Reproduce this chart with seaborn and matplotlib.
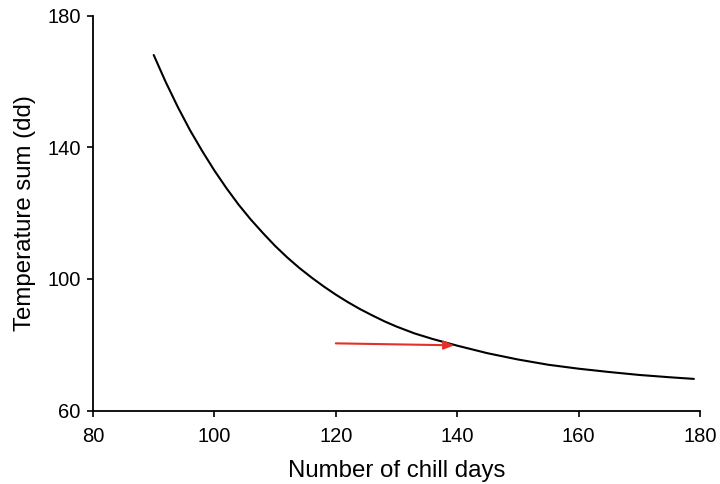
import matplotlib
matplotlib.use("Agg")
import matplotlib.pyplot as plt
import seaborn as sns
import pandas as pd

# Data
chill_days = [90, 92, 94, 96, 98, 100, 102, 104, 106, 108, 110, 112, 114, 116,
              118, 120, 122, 124, 126, 128, 130, 133, 136, 140, 145, 150, 155,
              160, 165, 170, 175, 179]
temp_sum = [168.0, 159.7, 152.1, 145.1, 138.8, 132.9, 127.5, 122.5, 118.0, 113.9,
            110.0, 106.5, 103.3, 100.4, 97.7, 95.2, 92.9, 90.8, 88.9, 87.1, 85.5,
            83.4, 81.7, 79.7, 77.4, 75.5, 73.9, 72.7, 71.7, 70.8, 70.1, 69.6]
arrow_start = (120, 80.4)
arrow_end = (139.5, 79.8)
x_ticks = [80, 100, 120, 140, 160, 180]
y_ticks = [60, 100, 140, 180]

sns.set_style("ticks")
plt.rcParams["font.family"] = ["Liberation Sans", "DejaVu Sans"]
plt.rcParams["text.color"] = "black"
plt.rcParams["axes.labelcolor"] = "black"
plt.rcParams["xtick.color"] = "black"
plt.rcParams["ytick.color"] = "black"

fig = plt.figure(figsize=(7.2, 4.84), dpi=100)
ax = fig.add_axes([93 / 720, 1 - 410.5 / 484, (700 - 93) / 720, (410.5 - 15.5) / 484])

df = pd.DataFrame({"days": chill_days, "tsum": temp_sum})
sns.lineplot(data=df, x="days", y="tsum", ax=ax, color="black", linewidth=1.5)

ax.annotate("", xy=arrow_end, xytext=arrow_start,
            arrowprops=dict(arrowstyle="-|>,head_length=0.6,head_width=0.25",
                            color="#e53027", lw=1.5, shrinkA=0, shrinkB=0))

ax.set_xlim(80, 180)
ax.set_ylim(60, 180)
ax.set_xticks(x_ticks)
ax.set_yticks(y_ticks)
ax.set_xlabel("Number of chill days", fontsize=17.3, labelpad=10)
ax.set_ylabel("Temperature sum (dd)", fontsize=17.3, labelpad=8)
ax.tick_params(axis="x", labelsize=14.5, length=4, width=1.2, direction="out", pad=8)
ax.tick_params(axis="y", labelsize=14.5, length=4, width=1.2, direction="out", pad=5)
for s in ["top", "right"]:
    ax.spines[s].set_visible(False)
for s in ["left", "bottom"]:
    ax.spines[s].set_color("black")
    ax.spines[s].set_linewidth(1.3)

fig.savefig("out.png", dpi=100)
